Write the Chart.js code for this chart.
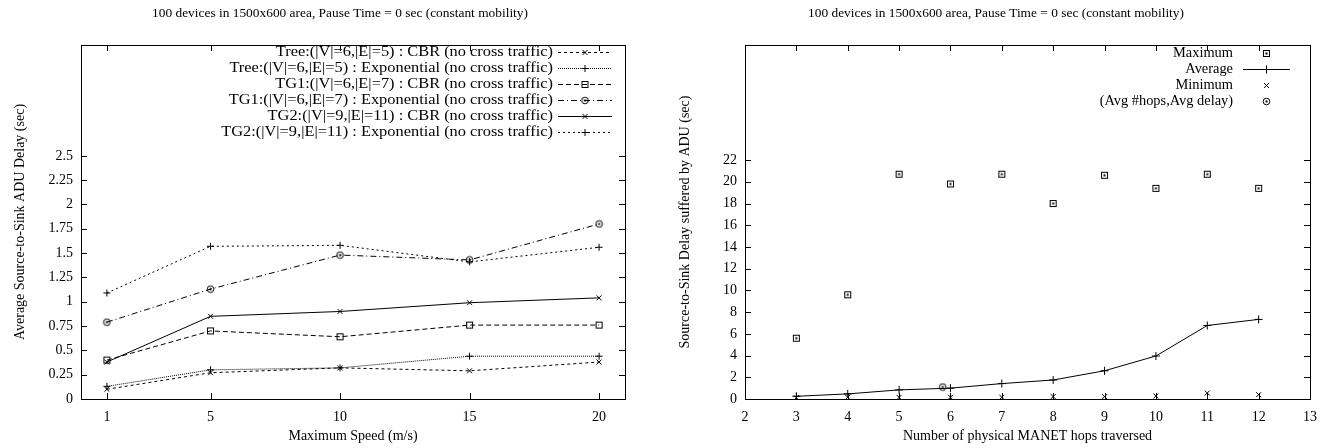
<!DOCTYPE html>
<html>
<head>
<meta charset="utf-8">
<script src="https://cdn.jsdelivr.net/npm/chart.js@4.4.0/dist/chart.umd.min.js"></script>
<style>
  html, body { margin: 0; padding: 0; background: #fff; }
  #wrap { position: relative; width: 1331px; height: 448px; }
  canvas { position: absolute; top: 0; }
  #chartSpeed { left: 0; }
  #chartHops { left: 665px; }
</style>
</head>
<body>
<div id="wrap">
  <canvas id="chartSpeed" width="665" height="448"></canvas>
  <canvas id="chartHops" width="666" height="448"></canvas>
</div>
<script>
// ---- left graph : delay vs max speed ----
const speeds = [1, 5, 10, 15, 20];
const treeCbr = [0.10, 0.27, 0.32, 0.29, 0.38];
const treeExp = [0.13, 0.30, 0.32, 0.44, 0.44];
const tg1Cbr = [0.40, 0.70, 0.64, 0.76, 0.76];
const tg1Exp = [0.79, 1.13, 1.48, 1.43, 1.80];
const tg2Cbr = [0.38, 0.85, 0.90, 0.99, 1.04];
const tg2Exp = [1.09, 1.57, 1.58, 1.41, 1.56];
const speedTicks = [1, 5, 10, 15, 20];
const delayTicks = [0, 0.25, 0.5, 0.75, 1, 1.25, 1.5, 1.75, 2, 2.25, 2.5];

// ---- right graph : delay vs number of hops ----
const hops = [3, 4, 5, 6, 7, 8, 9, 10, 11, 12];
const maxDelay = [5.6, 9.6, 20.7, 19.8, 20.7, 18.0, 20.6, 19.4, 20.7, 19.4];
const avgDelay = [0.25, 0.47, 0.84, 1.0, 1.42, 1.75, 2.6, 3.96, 6.77, 7.33];
const minDelay = [0.12, 0.15, 0.15, 0.16, 0.16, 0.22, 0.22, 0.28, 0.55, 0.40];
const avgHops = [5.85];
const avgHopsDelay = [1.1];
const hopTicks = [2, 3, 4, 5, 6, 7, 8, 9, 10, 11, 12, 13];
const hopDelayTicks = [0, 2, 4, 6, 8, 10, 12, 14, 16, 18, 20, 22];

const plotTitle = '100 devices in 1500x600 area, Pause Time = 0 sec (constant mobility)';
const FONT = '"Liberation Serif", "DejaVu Serif", serif';

Chart.defaults.font.family = FONT;
Chart.defaults.font.size = 14;
Chart.defaults.color = '#000';
Chart.defaults.animation = false;

function pairs(xs, ys) {
    return xs.map((x, i) => ({ x: x, y: ys[i] }));
}

// gnuplot-like symbols with a dot in the middle
function markBox(size, dot) {
    const c = document.createElement('canvas');
    c.width = c.height = size;
    const g = c.getContext('2d');
    g.strokeStyle = '#000';
    g.lineWidth = 1;
    g.strokeRect(1.5, 1.5, size - 3, size - 3);
    if (dot) {
        g.fillStyle = '#000';
        g.fillRect(size / 2 - 1, size / 2 - 1, 2, 2);
    }
    return c;
}
function markCircle(size) {
    const c = document.createElement('canvas');
    c.width = c.height = size;
    const g = c.getContext('2d');
    g.strokeStyle = '#000';
    g.lineWidth = 1;
    g.beginPath();
    g.arc(size / 2, size / 2, size / 2 - 1.2, 0, Math.PI * 2);
    g.stroke();
    g.fillStyle = '#000';
    g.fillRect(size / 2 - 1, size / 2 - 1, 2, 2);
    return c;
}

// frame with inward ticks on all four sides
const gnuFrame = {
    id: 'gnuFrame',
    afterDatasetsDraw(chart) {
        const { ctx, chartArea: a, scales } = chart;
        const L = 6;
        ctx.save();
        ctx.strokeStyle = '#000';
        ctx.lineWidth = 1;
        ctx.beginPath();
        scales.x.ticks.forEach(t => {
            const px = Math.round(scales.x.getPixelForValue(t.value)) + 0.5;
            ctx.moveTo(px, a.bottom); ctx.lineTo(px, a.bottom - L);
            ctx.moveTo(px, a.top); ctx.lineTo(px, a.top + L);
        });
        scales.y.ticks.forEach(t => {
            const py = Math.round(scales.y.getPixelForValue(t.value)) + 0.5;
            ctx.moveTo(a.left, py); ctx.lineTo(a.left + L, py);
            ctx.moveTo(a.right, py); ctx.lineTo(a.right - L, py);
        });
        ctx.stroke();
        ctx.strokeRect(Math.round(a.left) + 0.5, Math.round(a.top) + 0.5,
            Math.round(a.right - a.left), Math.round(a.bottom - a.top));
        ctx.restore();
    }
};

// title line above the plot box
const topTitle = {
    id: 'topTitle',
    afterDraw(chart, args, o) {
        const ctx = chart.ctx;
        ctx.save();
        ctx.font = o.size + 'px ' + FONT;
        ctx.fillStyle = '#000';
        ctx.textAlign = 'center';
        ctx.textBaseline = 'middle';
        ctx.fillText(o.text, o.x, o.y);
        ctx.restore();
    }
};

// key: text right aligned (optionally widened), sample to the right of it
const keyBox = {
    id: 'keyBox',
    afterDatasetsDraw(chart, args, o) {
        const ctx = chart.ctx;
        const sx = o.stretch || 1;
        ctx.save();
        ctx.font = o.size + 'px ' + FONT;
        chart.data.datasets.forEach((ds, i) => {
            const y = o.top + i * o.row;
            ctx.save();
            ctx.translate(o.textRight, y);
            ctx.scale(sx, 1);
            ctx.fillStyle = '#000';
            ctx.textAlign = 'right';
            ctx.textBaseline = 'middle';
            ctx.fillText(ds.label, 0, 0);
            ctx.restore();
            const mid = (o.sampleLeft + o.sampleRight) / 2;
            if (ds.showLine !== false) {
                ctx.strokeStyle = ds.borderColor;
                ctx.lineWidth = ds.borderWidth;
                ctx.setLineDash(ds.borderDash || []);
                ctx.beginPath();
                ctx.moveTo(o.sampleLeft, Math.round(y) + 0.5);
                ctx.lineTo(o.sampleRight, Math.round(y) + 0.5);
                ctx.stroke();
                ctx.setLineDash([]);
            }
            ctx.strokeStyle = '#000';
            ctx.fillStyle = '#000';
            ctx.lineWidth = 1;
            Chart.helpers.drawPoint(ctx, {
                pointStyle: ds.pointStyle, radius: ds.pointRadius,
                rotation: 0, borderWidth: 1
            }, mid, Math.round(y) + 0.5);
        });
        ctx.restore();
    }
};

function lineSet(label, ys, dash, style, r) {
    return {
        label: label,
        data: pairs(speeds, ys),
        borderColor: '#000',
        backgroundColor: '#000',
        pointBackgroundColor: 'rgba(0,0,0,0)',
        pointBorderColor: '#000',
        borderWidth: 1,
        borderDash: dash,
        pointStyle: style,
        pointRadius: r,
        pointBorderWidth: 1,
        tension: 0,
        fill: false
    };
}

function axes(xmin, xmax, xt, ymax, yt, xLabel, yLabel, yw) {
    return {
        x: {
            type: 'linear', min: xmin, max: xmax,
            grid: { display: false, drawTicks: false },
            border: { display: false },
            afterBuildTicks: s => { s.ticks = xt.map(v => ({ value: v })); },
            afterFit: s => { s.height = 49; },
            ticks: { padding: 10, maxRotation: 0, autoSkip: false, callback: v => String(v) },
            title: { display: true, text: xLabel, padding: { top: 0, bottom: 3 } }
        },
        y: {
            type: 'linear', min: 0, max: ymax,
            grid: { display: false, drawTicks: false },
            border: { display: false },
            afterBuildTicks: s => { s.ticks = yt.map(v => ({ value: v })); },
            afterFit: s => { s.width = yw; },
            ticks: { padding: 8, autoSkip: false, callback: v => String(v) },
            title: { display: true, text: yLabel, padding: { top: 12, bottom: 0 } }
        }
    };
}

const ctxSpeed = document.getElementById('chartSpeed').getContext('2d');
const chartSpeed = new Chart(ctxSpeed, {
    type: 'line',
    data: {
        datasets: [
            lineSet('Tree:(|V|=6,|E|=5) : CBR (no cross traffic)', treeCbr, [3, 3], 'crossRot', 3.5),
            lineSet('Tree:(|V|=6,|E|=5) : Exponential (no cross traffic)', treeExp, [1, 1], 'cross', 3.5),
            lineSet('TG1:(|V|=6,|E|=7) : CBR (no cross traffic)', tg1Cbr, [5, 3], markBox(9, false), 4),
            lineSet('TG1:(|V|=6,|E|=7) : Exponential (no cross traffic)', tg1Exp, [6, 3, 1, 3], markCircle(9), 4),
            lineSet('TG2:(|V|=9,|E|=11) : CBR (no cross traffic)', tg2Cbr, [], 'crossRot', 3.5),
            lineSet('TG2:(|V|=9,|E|=11) : Exponential (no cross traffic)', tg2Exp, [2, 3], 'cross', 3.5)
        ]
    },
    options: {
        responsive: false,
        layout: { padding: { top: 45, right: 40, left: 0, bottom: 0 } },
        scales: axes(0, 21, speedTicks, 3.64, delayTicks,
            'Maximum Speed (m/s)', 'Average Source-to-Sink ADU Delay (sec)', 81),
        plugins: {
            legend: { display: false },
            tooltip: { enabled: false },
            topTitle: { text: plotTitle, x: 340, y: 13, size: 13.4 },
            keyBox: { textRight: 553, sampleLeft: 558, sampleRight: 612, top: 52, row: 16, size: 14, stretch: 1.17 }
        }
    },
    plugins: [gnuFrame, topTitle, keyBox]
});

const ctxHops = document.getElementById('chartHops').getContext('2d');
const chartHops = new Chart(ctxHops, {
    type: 'line',
    data: {
        datasets: [
            {
                label: 'Maximum', data: pairs(hops, maxDelay), showLine: false,
                pointStyle: markBox(9, true), pointRadius: 4, borderColor: '#000'
            },
            {
                label: 'Average', data: pairs(hops, avgDelay), borderColor: '#000',
                borderWidth: 1, pointStyle: 'cross', pointRadius: 4,
                pointBorderColor: '#000', pointBorderWidth: 1, tension: 0
            },
            {
                label: 'Minimum', data: pairs(hops, minDelay), showLine: false,
                pointStyle: 'crossRot', pointRadius: 3.5, pointBorderColor: '#000',
                pointBorderWidth: 1, borderColor: '#000'
            },
            {
                label: '(Avg #hops,Avg delay)', data: pairs(avgHops, avgHopsDelay), showLine: false,
                pointStyle: markCircle(9), pointRadius: 4, borderColor: '#000'
            }
        ]
    },
    options: {
        responsive: false,
        layout: { padding: { top: 45, right: 21, left: 0, bottom: 0 } },
        scales: axes(2, 13, hopTicks, 32.6, hopDelayTicks,
            'Number of physical MANET hops traversed', 'Source-to-Sink Delay suffered by ADU (sec)', 80),
        plugins: {
            legend: { display: false },
            tooltip: { enabled: false },
            topTitle: { text: plotTitle, x: 331, y: 13, size: 13.4 },
            keyBox: { textRight: 568, sampleLeft: 578, sampleRight: 625, top: 53, row: 16, size: 14.4 }
        }
    },
    plugins: [gnuFrame, topTitle, keyBox]
});
</script>
</body>
</html>
